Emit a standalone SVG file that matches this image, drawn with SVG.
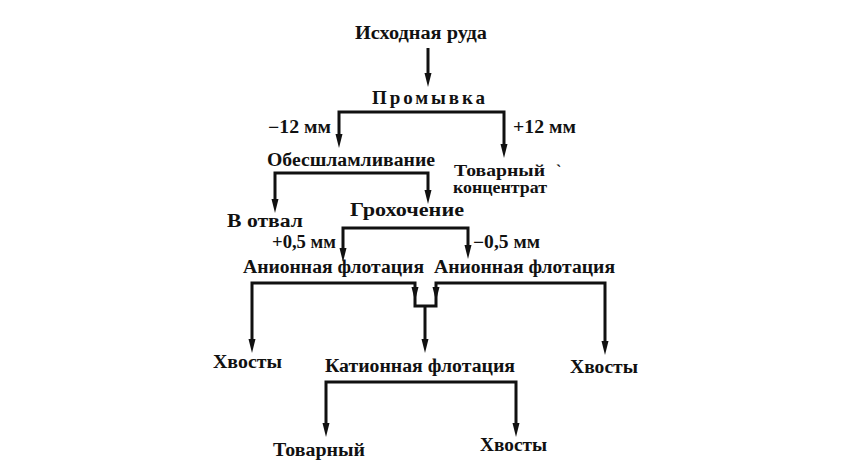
<svg xmlns="http://www.w3.org/2000/svg" width="855" height="475" viewBox="0 0 855 475">
<style>
text{font-family:"Liberation Serif","Times New Roman",serif;font-size:18px;font-weight:bold;fill:#111}
.c path{fill:none;stroke:#111;stroke-width:3;stroke-linejoin:miter;stroke-linecap:butt}
</style>
<defs>
<marker id="ah" viewBox="0 0 14 8" refX="3" refY="4" markerWidth="14" markerHeight="8" markerUnits="userSpaceOnUse" orient="auto">
<path d="M0,0.5 L14,4 L0,7.5 Z" fill="#111"/>
</marker>
</defs>
<rect width="855" height="475" fill="#fff"/>
<g class="c" id="connectors">
<path d="M428,48 V76" marker-end="url(#ah)"/>
<path d="M421,112 H339 V137" marker-end="url(#ah)"/>
<path d="M421,112 H504 V147" marker-end="url(#ah)"/>
<path d="M350,173 H275 V202" marker-end="url(#ah)"/>
<path d="M350,173 H428 V193" marker-end="url(#ah)"/>
<path d="M400,228 H343 V251" marker-end="url(#ah)"/>
<path d="M400,228 H468 V248" marker-end="url(#ah)"/>
<path d="M330,283 H252 V342" marker-end="url(#ah)"/>
<path d="M330,283 H415 V290" marker-end="url(#ah)"/>
<path d="M520,283 H605 V344" marker-end="url(#ah)"/>
<path d="M520,283 H436 V290" marker-end="url(#ah)"/>
<path d="M415,290 V306 H436 V290"/>
<path d="M425,306 V342" marker-end="url(#ah)"/>
<path d="M420,382 H326 V426" marker-end="url(#ah)"/>
<path d="M420,382 H516 V426" marker-end="url(#ah)"/>
</g>
<g id="n-ruda"><text x="355" y="39" textLength="132" lengthAdjust="spacingAndGlyphs">Исходная руда</text></g>
<g id="n-promyvka"><text x="372" y="104" textLength="113" lengthAdjust="spacing" style="font-size:19px">Промывка</text></g>
<g id="l-m12"><text x="268" y="133" textLength="63" lengthAdjust="spacingAndGlyphs">−12 мм</text></g>
<g id="l-p12"><text x="513" y="133" textLength="63" lengthAdjust="spacingAndGlyphs">+12 мм</text></g>
<g id="n-obes"><text x="267" y="166" textLength="168" lengthAdjust="spacingAndGlyphs">Обесшламливание</text></g>
<g id="n-tovar1"><text x="454" y="176" textLength="91" lengthAdjust="spacingAndGlyphs" style="font-size:16px">Товарный</text>
<text x="556" y="176" style="font-size:16px">`</text>
<text x="453" y="193" textLength="94" lengthAdjust="spacingAndGlyphs" style="font-size:16px">концентрат</text></g>
<g id="n-otval"><text x="227" y="227" textLength="76" lengthAdjust="spacingAndGlyphs">В отвал</text></g>
<g id="n-groh"><text x="350" y="216" textLength="114" lengthAdjust="spacingAndGlyphs">Грохочение</text></g>
<g id="l-p05"><text x="272" y="248" textLength="64" lengthAdjust="spacingAndGlyphs">+0,5 мм</text></g>
<g id="l-m05"><text x="473" y="248" textLength="67" lengthAdjust="spacingAndGlyphs">−0,5 мм</text></g>
<g id="n-anion1"><text x="243" y="273" textLength="181" lengthAdjust="spacingAndGlyphs">Анионная флотация</text></g>
<g id="n-anion2"><text x="434" y="273" textLength="181" lengthAdjust="spacingAndGlyphs">Анионная флотация</text></g>
<g id="n-hv1"><text x="213" y="368" textLength="69" lengthAdjust="spacingAndGlyphs">Хвосты</text></g>
<g id="n-kation"><text x="325" y="372" textLength="190" lengthAdjust="spacingAndGlyphs">Катионная флотация</text></g>
<g id="n-hv2"><text x="570" y="373" textLength="68" lengthAdjust="spacingAndGlyphs">Хвосты</text></g>
<g id="n-tovar2"><text x="273" y="456" textLength="92" lengthAdjust="spacingAndGlyphs">Товарный</text></g>
<g id="n-hv3"><text x="480" y="451" textLength="67" lengthAdjust="spacingAndGlyphs">Хвосты</text></g>
</svg>
